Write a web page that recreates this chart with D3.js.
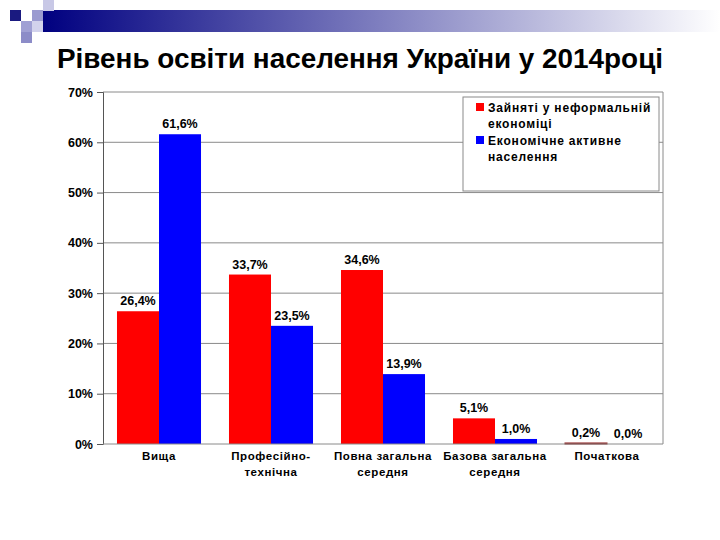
<!DOCTYPE html>
<html>
<head>
<meta charset="utf-8">
<script src="https://cdn.jsdelivr.net/npm/d3@7"></script>
<style>
  body { margin: 0; background: #fff; }
  text { font-family: "Liberation Sans", Arial, sans-serif; }
</style>
</head>
<body>
<div id="chart"></div>
<script>
// categories and values (percent)
var categories = [["Вища"], ["Професійно-", "технічна"], ["Повна загальна", "середня"], ["Базова загальна", "середня"], ["Початкова"]];
var informal = [26.4, 33.7, 34.6, 5.1, 0.2];
var active = [61.6, 23.5, 13.9, 1.0, 0.0];
var seriesNames = ["Зайняті у неформальній економіці", "Економічне активне населення"];
var yTicks = [0, 10, 20, 30, 40, 50, 60, 70];

var width = 720, height = 540;
var margin = { top: 92, right: 57, bottom: 96, left: 103 };

var svg = d3.select("#chart").append("svg")
  .attr("width", width)
  .attr("height", height);

// top decoration: gradient band + squares
var defs = svg.append("defs");
var grad = defs.append("linearGradient").attr("id", "band");
grad.append("stop").attr("offset", "0%").attr("stop-color", "#000080");
grad.append("stop").attr("offset", "100%").attr("stop-color", "#ffffff");
svg.append("rect").attr("x", 43).attr("y", 10).attr("width", 677).attr("height", 22).attr("fill", "url(#band)");

var squares = [
  [10, 10, "#1a1a80"], [43, 0, "#c8c8e6"], [32, 10, "#9a9ad0"],
  [32, 21, "#d2d2ec"], [21, 21, "#a0a0d4"], [21, 32, "#8c8cc8"]
];
svg.selectAll(".sq").data(squares).join("rect")
  .attr("x", d => d[0]).attr("y", d => d[1])
  .attr("width", 11).attr("height", 11)
  .attr("fill", d => d[2]);

// title
svg.append("text")
  .attr("x", 360).attr("y", 68)
  .attr("text-anchor", "middle")
  .attr("textLength", 606)
  .attr("lengthAdjust", "spacingAndGlyphs")
  .style("font-size", "27px")
  .style("font-weight", "bold")
  .text("Рівень освіти населення України у 2014році");

// scales
var x0 = d3.scaleBand()
  .domain(d3.range(categories.length))
  .range([margin.left, width - margin.right]);

var x1 = d3.scaleBand()
  .domain([0, 1])
  .range([0, x0.bandwidth()])
  .paddingInner(0)
  .paddingOuter(0.333);

var y = d3.scaleLinear()
  .domain([0, 70])
  .range([height - margin.bottom, margin.top]);

// grid
svg.append("g").selectAll("line")
  .data(yTicks.slice(1))
  .join("line")
  .attr("x1", margin.left).attr("x2", width - margin.right)
  .attr("y1", d => y(d)).attr("y2", d => y(d))
  .attr("stroke", "#8a8a8a").attr("stroke-width", 1);

// right border
svg.append("line")
  .attr("x1", width - margin.right).attr("x2", width - margin.right)
  .attr("y1", margin.top).attr("y2", height - margin.bottom)
  .attr("stroke", "#8a8a8a");

// bars
var colors = ["#ff0000", "#0000ff"];
var data = categories.map((c, i) => ({ i: i, vals: [informal[i], active[i]] }));

var groups = svg.append("g").selectAll("g")
  .data(data)
  .join("g")
  .attr("transform", d => "translate(" + x0(d.i) + ",0)");

groups.selectAll("rect")
  .data(d => d.vals.map((v, k) => ({ k: k, v: v })))
  .join("rect")
  .attr("x", d => x1(d.k))
  .attr("y", d => y(d.v))
  .attr("width", x1.bandwidth())
  .attr("height", d => y(0) - y(d.v))
  .attr("fill", d => colors[d.k])
  .attr("stroke", d => d.v < 0.5 && d.v > 0 ? "#8b1a1a" : "none")
  .attr("stroke-width", 1);

groups.selectAll("text")
  .data(d => d.vals.map((v, k) => ({ k: k, v: v })))
  .join("text")
  .attr("x", d => x1(d.k) + x1.bandwidth() / 2)
  .attr("y", d => y(d.v) - 6)
  .attr("text-anchor", "middle")
  .style("font-size", "12.5px")
  .style("font-weight", "bold")
  .text(d => d3.format(".1f")(d.v).replace(".", ",") + "%");

// y axis
var yAxis = d3.axisLeft(y)
  .tickValues(yTicks)
  .tickSize(6)
  .tickPadding(4)
  .tickFormat(d => d + "%");

var gy = svg.append("g")
  .attr("transform", "translate(" + margin.left + ",0)")
  .call(yAxis);
gy.select(".domain").attr("stroke", "#555");
gy.selectAll(".tick line").attr("stroke", "#555");
gy.selectAll(".tick text")
  .style("font-size", "12.5px")
  .style("font-weight", "bold")
  .style("font-family", "'Liberation Sans', Arial, sans-serif")
  .attr("fill", "#000");

// x axis line
svg.append("line")
  .attr("x1", margin.left).attr("x2", width - margin.right)
  .attr("y1", y(0)).attr("y2", y(0))
  .attr("stroke", "#8a8a8a");

// category labels
var xl = svg.append("g").selectAll("text")
  .data(categories)
  .join("text")
  .attr("x", (d, i) => x0(i) + x0.bandwidth() / 2)
  .attr("y", 460)
  .attr("text-anchor", "middle")
  .style("font-size", "11.5px")
  .style("font-weight", "bold")
  .style("letter-spacing", "0.6px");
xl.selectAll("tspan")
  .data(d => d)
  .join("tspan")
  .attr("x", function () { return this.parentNode.getAttribute("x"); })
  .attr("dy", (d, k) => k === 0 ? 0 : 16)
  .text(d => d);

// legend
var lg = svg.append("g");
lg.append("rect")
  .attr("x", 463).attr("y", 97)
  .attr("width", 196).attr("height", 94)
  .attr("fill", "#fff")
  .attr("stroke", "#8a8a8a");

var legendLines = [["Зайняті у неформальній", "економіці"], ["Економічне активне", "населення"]];
legendLines.forEach(function (lines, k) {
  var top = 101 + k * 33;
  lg.append("rect")
    .attr("x", 476).attr("y", top + 2)
    .attr("width", 8).attr("height", 8)
    .attr("fill", colors[k]);
  var t = lg.append("text")
    .attr("x", 488).attr("y", top + 11)
    .style("font-size", "12px")
    .style("font-weight", "bold")
    .style("letter-spacing", "0.8px");
  t.selectAll("tspan").data(lines).join("tspan")
    .attr("x", 488)
    .attr("dy", (d, j) => j === 0 ? 0 : 16)
    .text(d => d);
});
</script>
</body>
</html>
